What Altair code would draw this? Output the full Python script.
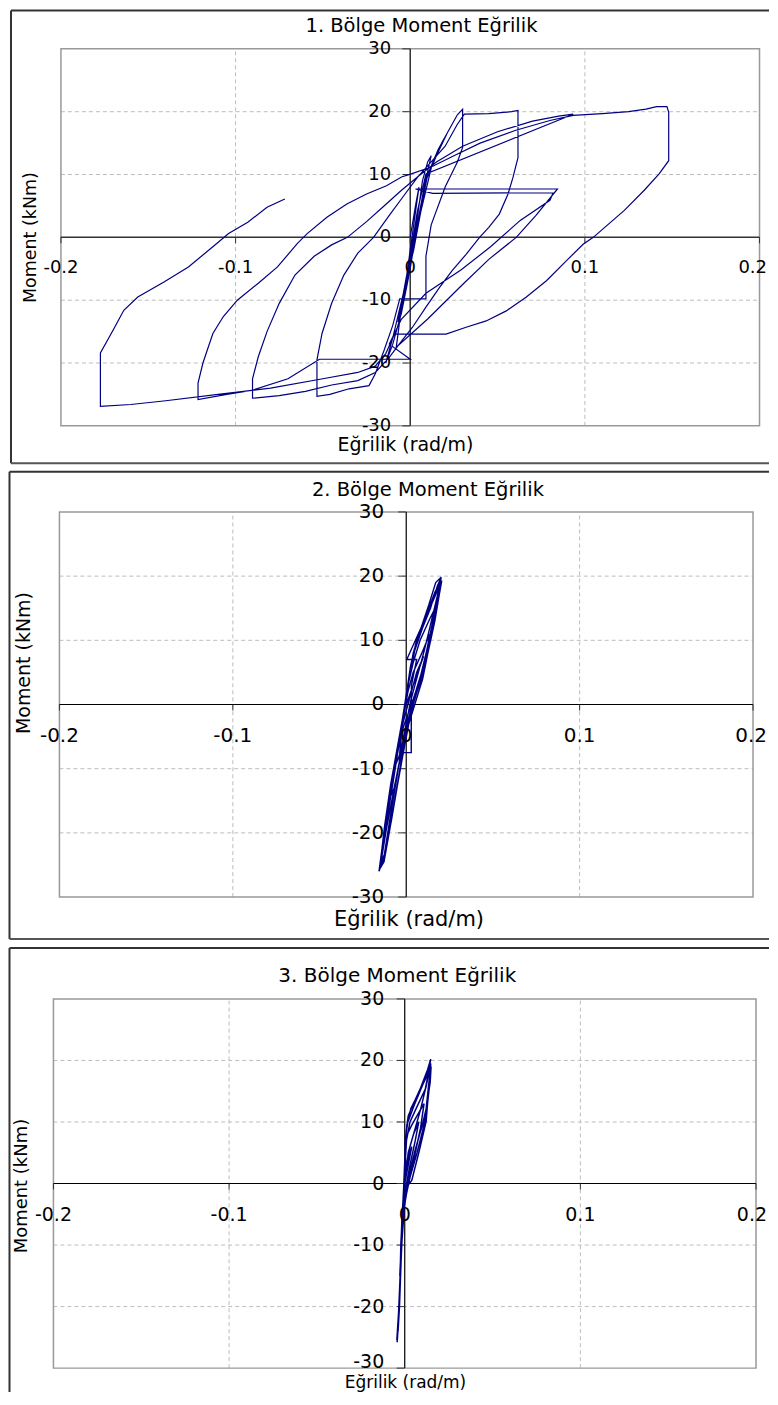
import altair as alt
import pandas as pd

# ---------------- data ----------------
X_TICKS = [-0.2, -0.1, 0.0, 0.1, 0.2]
X_LABELS = ["-0.2", "-0.1", "0", "0.1", "0.2"]
Y_TICKS = [-30, -20, -10, 0, 10, 20, 30]
Y_LABELS = ["-30", "-20", "-10", "0", "10", "20", "30"]
X_GRID = [-0.1, 0.1]
Y_GRID = [-20, -10, 10, 20]

TITLES = ["1. Bölge Moment Eğrilik", "2. Bölge Moment Eğrilik", "3. Bölge Moment Eğrilik"]
X_TITLE = "Eğrilik (rad/m)"
Y_TITLE = "Moment (kNm)"

# Panel 1 : curvature (rad/m) and moment (kNm), in recorded order
P1_X = [0.0, 0.003, 0.005, 0.003, 0.0, -0.002, -0.003, 0.0, 0.004, 0.007, 0.010, 0.012, 0.008, 0.004, 0.0,
        -0.004, -0.007, -0.004, 0.002,
        0.006, 0.012, 0.018, 0.021, 0.015, 0.009, 0.004, 0.0, -0.005, -0.010, -0.014, -0.010, -0.004, 0.001, 0.005,
        0.010, 0.016, 0.022, 0.027, 0.030,
        0.030, 0.027, 0.020, 0.012, 0.009, 0.009, -0.006, -0.010, -0.015, -0.020, -0.0236, -0.035, -0.046, -0.0534,
        -0.0534, -0.0505, -0.045, -0.038, -0.030, -0.021, -0.012, -0.004, 0.004, 0.012, 0.020, 0.027, 0.031, 0.045,
        0.058, 0.0617,
        0.0617, 0.0588, 0.056, 0.051, 0.045, 0.0397, 0.032, 0.024, 0.0167, 0.009, 0.0013, -0.0063, -0.012, -0.020,
        -0.030, -0.045, -0.060, -0.075, -0.0903,
        -0.0903, -0.087, -0.082, -0.075, -0.066, -0.055, -0.045, -0.036, -0.025, -0.015, -0.005, 0.005, 0.015,
        0.030, 0.050, 0.070, 0.085, 0.0933,
        0.009, 0.004, 0.0, -0.004, -0.008, 0.010, 0.030, 0.045, 0.0607, 0.072, 0.0843,
        0.003, 0.0128, 0.0818, 0.080, 0.063, 0.046, 0.029, 0.009, -0.005, -0.012, 0.0, -0.052, -0.070, -0.090,
        -0.105, -0.1215,
        -0.1215, -0.1187, -0.113, -0.107, -0.099, -0.087, -0.076, -0.0647, -0.059, -0.0477, -0.0363, -0.025,
        -0.0136, -0.005, 0.0006, 0.012, 0.025, 0.040, 0.060, 0.080, 0.0933, 0.110, 0.125, 0.135, 0.141, 0.147,
        0.148, 0.148, 0.1425, 0.134, 0.1226, 0.1048, 0.099, 0.0895, 0.078, 0.0665, 0.055, 0.0435, 0.032, 0.0205,
        -0.009, -0.014, -0.020, -0.030, -0.050, -0.080, -0.110, -0.140, -0.160, -0.1774,
        -0.1774, -0.170, -0.164, -0.156, -0.141, -0.127, -0.113, -0.104, -0.093, -0.082, -0.0718]
P1_M = [0.0, 5, 8, 4, -2, -6, -8, -3, 3, 9, 12, 13, 8, 2, -4,
        -10, -13.5, -9, -2,
        4, 11, 15, 16.5, 13, 9, 2, -5, -12, -17, -20, -16, -9, -3, 3,
        10, 14, 17, 19.5, 20.4,
        14.3, 12, 8, 2, -3, -9.8, -9.8, -14, -18, -21.7, -23.6, -24.1, -25.0, -25.3,
        -19.5, -15.3, -10.5, -6.0, -2.5, 0.0, 3.5, 6.5, 9.5, 12.0, 14.5, 18.0, 19.6, 19.7,
        20.0, 20.2,
        12.7, 9.5, 6.9, 3.7, 1.6, 0.0, -2.7, -5.3, -8.0, -11.1, -14.3, -17.0, -19.1, -21.5,
        -22.8, -23.5, -24.5, -25.2, -25.6,
        -22.5, -19.0, -15.0, -10.5, -6.0, -3.0, -1.2, 0.0, 2.5, 5.0, 7.5, 9.8, 12.0,
        14.5, 16.8, 18.5, 19.3, 19.6,
        10.1, 4.0, -3.0, -9.0, -17.5, -13.0, -7.5, -3.5, 0.0, 3.5, 7.7,
        7.7, 7.0, 7.1, 5.9, 2.7, -1.5, -5.2, -8.9, -13.0, -17.0, -19.4, -19.4, -22.5, -24.3,
        -25.0, -25.8,
        -23.2, -20.0, -15.3, -12.6, -10.0, -7.3, -4.7, -1.0, 0.6, 3.2, 5.3, 6.9,
        8.2, 9.6, 10.1, 11.2, 13.0, 15.0, 17.0, 18.6, 19.4, 19.7, 20.0, 20.4, 20.8, 20.8,
        19.9, 12.2, 10.1, 7.5, 4.3, 0.0, -1.1, -3.7, -6.9, -9.5, -11.7, -13.3, -14.3, -15.4,
        -15.4, -18.5, -20.5, -21.5, -22.5, -24.0, -25.0, -26.0, -26.6, -26.9,
        -18.4, -14.7, -11.6, -9.5, -7.1, -4.7, -1.5, 0.6, 2.4, 4.8, 6.1]

# Panel 2
P2_X = [0.0, 0.004, 0.008, 0.010,
        0.006, 0.002, -0.002, -0.004,
        -0.001, 0.003, 0.008, 0.012, 0.0135,
        0.009, 0.004, 0.001, -0.002, -0.005, -0.007,
        -0.004, 0.0, 0.004, 0.009, 0.013, 0.016, 0.0175,
        0.013, 0.008, 0.004, 0.001, -0.002, -0.006, -0.009, -0.010,
        -0.007, -0.003, 0.001, 0.005, 0.010, 0.0135, 0.017, 0.0195, 0.0197,
        0.017, 0.013, 0.008, 0.004, 0.0015, -0.001, -0.005, -0.009, -0.0125, -0.0154,
        -0.0128, -0.0095, -0.006, -0.002, 0.0015, 0.0055, 0.0095, 0.0125, 0.0165, 0.019, 0.0205,
        0.0133, 0.0003, 0.006, 0.003, 0.0029, 0.0029, -0.003, -0.003,
        -0.004, -0.008, -0.0115, -0.0145,
        -0.012, -0.0085, -0.005, -0.0015, 0.002, 0.006, 0.010, 0.013, 0.0165, 0.0195,
        0.0165, 0.011, 0.0055, 0.0025, 0.0, -0.003, -0.0065, -0.010, -0.013, -0.015,
        -0.0125, -0.009, -0.0055, -0.001, 0.003, 0.007, 0.011, 0.014, 0.017, 0.0198,
        0.0175, 0.012, 0.006, 0.0025, 0.0, -0.0035, -0.0075, -0.011, -0.014, -0.0157,
        -0.013, -0.0095, -0.0055, -0.0015, 0.0025, 0.0065, 0.0105, 0.0145, 0.018, 0.0202,
        0.018, 0.014, 0.0095, 0.005, 0.002, -0.0005, -0.004, -0.0075, -0.0105, -0.0135]
P2_M = [0.0, 3, 6, 7.5,
        5, 1, -3, -5.5,
        -3, 0, 4, 8.5, 11,
        8, 5, 2, -2.5, -7, -10,
        -8, -4, 0, 4.5, 9, 13, 15.5,
        13, 10, 6.5, 3, -2, -8, -13, -15,
        -13, -8, -2.5, 1, 5, 9.5, 14, 18.5, 19.7,
        19, 15.5, 11.5, 8, 4, -0.5, -6.5, -12.5, -19, -25.7,
        -24.5, -19.5, -14, -8, -3, 0.5, 4, 8, 13, 17, 19.3,
        14.8, 7.0, 7.0, 3.0, -3.9, -7.5, -7.5, -4.0,
        -9, -14.5, -19.5, -24.5,
        -23, -18, -12.5, -6.5, -1.5, 2.5, 6, 10, 14.5, 19,
        17.5, 13.5, 9.5, 5.5, 1, -4, -9.5, -15, -20.5, -25,
        -24, -18.5, -13, -6, -1, 3, 7.5, 11, 15, 19.6,
        18, 14, 10, 6, 1.5, -4.5, -11, -17, -22.5, -26,
        -24, -18, -11.5, -5, 0.5, 4.5, 8.5, 13, 17, 19.8,
        18.5, 15, 12, 8.5, 4.5, 0, -6, -12, -17, -22]

# Panel 3
P3_X = [0.0, 0.002, 0.004, 0.002, 0.0, -0.001, -0.0015, 0.0, 0.003, 0.006, 0.008, 0.005, 0.002, 0.0,
        -0.0015, -0.002, -0.001, 0.002, 0.006, 0.009, 0.011, 0.009, 0.004, 0.0004, 0.0, -0.001, -0.002,
        -0.0028, -0.002, 0.0, 0.003, 0.007, 0.0115, 0.0125, 0.014, 0.0145, 0.0122, 0.008, 0.0055, 0.0017,
        0.0004, 0.0, -0.0011, -0.0022, -0.003, -0.0043, -0.0035, -0.0025, -0.0015, 0.0, 0.004, 0.008,
        0.0122, 0.013, 0.0145, 0.0148, 0.012, 0.007, 0.003, 0.001, 0.0,
        0.003, 0.006, 0.009, 0.0115, 0.0135, 0.0148, 0.013, 0.009, 0.005, 0.002, 0.0008, 0.0002,
        -0.0008, -0.0018, -0.0026, -0.0035, -0.0045, -0.0038, -0.0028, -0.0018, -0.0008, 0.0015, 0.0045,
        0.0075, 0.010, 0.0125, 0.0138, 0.0143, 0.011, 0.0075, 0.0035, 0.0012, 0.0003, 0.0, -0.001, -0.002,
        -0.0028, -0.0038, -0.003, -0.002, -0.001, 0.001, 0.003, 0.006, 0.009, 0.012, 0.013, 0.0145, 0.015]
P3_M = [0.0, 3, 6, 4, 1, -3, -5, -1.5, 3, 7, 10, 8, 5, 0,
        -5, -9, -5, 0, 5, 9, 13, 12, 9.5, 7.4, 3, -3, -10,
        -15, -11, -3, 1, 5, 10, 13, 17, 20, 17.4, 14.5, 12.8, 9.9,
        7.4, 3, -3.7, -9.8, -19.9, -25.8, -22, -14, -7, -1, 0.5, 5,
        10.1, 13, 17, 19.5, 15.5, 12.5, 10, 7, 2,
        6, 9, 12, 15, 18, 20.2, 18.5, 15.5, 13, 11, 8.5, 5,
        -2, -8, -15, -21, -25.5, -23, -17, -10, -4, 0, 3.5,
        7, 9.5, 12.5, 16, 18.5, 16.5, 14.5, 12.2, 9.5, 6, 1, -5, -12,
        -18, -24, -20, -12, -5.5, -1, 2, 5.5, 8.5, 11, 13.5, 16.5, 19]

# ---------------- layout / style ----------------
FONT = "DejaVu Sans"
LINE_COLOR = "#000080"
W = 762  # whole page width minus the 8px margins

LAYOUT = [
    dict(h=459, x0=53.0, x1=752.5, yb=417.5, yt=40.0,
         box_left=3, box_top=1.5, box_bottom=455,
         tick_fs=18, title_fs=19.5, yt_fs=17.5, xt_fs=19, ydx=-19, xdy=31, low_dy=0,
         title_xy=(414, 17), ytitle_xy=(23, 229), xtitle_xy=(398, 437), axis_w=1.5, axis_c="#333333",
         lw=1.2),
    dict(h=477, x0=51.5, x1=746.0, yb=430.3, yt=44.7,
         box_left=1.5, box_top=4.5, box_bottom=472.3,
         tick_fs=20, title_fs=19.5, yt_fs=19, xt_fs=21, ydx=-22, xdy=32, low_dy=0,
         title_xy=(420.5, 23), ytitle_xy=(16, 196), xtitle_xy=(401.5, 453), axis_w=1.2, axis_c="#000000",
         lw=1.4),
    dict(h=449, x0=45.5, x1=749.0, yb=425.0, yt=55.3,
         box_left=1.5, box_top=4.3, box_bottom=None,
         tick_fs=19, title_fs=20, yt_fs=18, xt_fs=17, ydx=-20.5, xdy=32, low_dy=-6,
         title_xy=(389.8, 32.7), ytitle_xy=(14, 242.7), xtitle_xy=(398, 440), axis_w=1.2, axis_c="#000000",
         lw=1.5),
]

one = pd.DataFrame({"a": [0]})


def panel(xs, ms, title, L):
    xsc = alt.Scale(domain=[-0.2, 0.2], range=[L["x0"], L["x1"]], nice=False, zero=False)
    ysc = alt.Scale(domain=[-30, 30], range=[L["yb"], L["yt"]], nice=False, zero=False)

    def X(f):
        return alt.X(f, type="quantitative", scale=xsc, axis=None)

    def Y(f):
        return alt.Y(f, type="quantitative", scale=ysc, axis=None)

    layers = []
    # grid
    vg = pd.DataFrame({"gx": X_GRID, "lo": [-30] * len(X_GRID), "hi": [30] * len(X_GRID)})
    layers.append(alt.Chart(vg).mark_rule(color="#bdbdbd", strokeWidth=1, strokeDash=[4, 3]).encode(
        x=X("gx"), y=Y("lo"), y2="hi"))
    hg = pd.DataFrame({"gy": Y_GRID, "lo": [-0.2] * len(Y_GRID), "hi": [0.2] * len(Y_GRID)})
    layers.append(alt.Chart(hg).mark_rule(color="#bdbdbd", strokeWidth=1, strokeDash=[4, 3]).encode(
        y=Y("gy"), x=X("lo"), x2="hi"))
    # plot frame
    fr = pd.DataFrame({"x1": [-0.2], "x2": [0.2], "y1": [-30], "y2": [30]})
    layers.append(alt.Chart(fr).mark_rect(filled=False, stroke="#999999", strokeWidth=1.5).encode(
        x=X("x1"), x2="x2", y=Y("y1"), y2="y2"))
    # zero axes
    za = pd.DataFrame({"z": [0.0], "lo": [-30], "hi": [30]})
    layers.append(alt.Chart(za).mark_rule(color=L["axis_c"], strokeWidth=L["axis_w"]).encode(
        x=X("z"), y=Y("lo"), y2="hi"))
    zb = pd.DataFrame({"z": [0.0], "lo": [-0.2], "hi": [0.2]})
    layers.append(alt.Chart(zb).mark_rule(color=L["axis_c"], strokeWidth=L["axis_w"]).encode(
        y=Y("z"), x=X("lo"), x2="hi"))
    # ticks
    yt = pd.DataFrame({"v": Y_TICKS, "lab": Y_LABELS, "zx": [0.0] * len(Y_TICKS)})
    layers.append(alt.Chart(yt).mark_tick(orient="horizontal", size=8, thickness=1, color="#333333",
                                          xOffset=-4, opacity=1).encode(x=X("zx"), y=Y("v")))
    xt = pd.DataFrame({"v": X_TICKS, "lab": X_LABELS, "zy": [0.0] * len(X_TICKS)})
    layers.append(alt.Chart(xt).mark_tick(orient="vertical", size=6, thickness=1, color="#333333",
                                          yOffset=3, opacity=1).encode(x=X("v"), y=Y("zy")))
    # curve
    cv = pd.DataFrame({"x": xs, "m": ms, "i": list(range(len(xs)))})
    layers.append(alt.Chart(cv).mark_line(color=LINE_COLOR, strokeWidth=L["lw"], strokeJoin="miter").encode(
        x=X("x"), y=Y("m"), order=alt.Order("i:Q")))
    # tick labels
    yt_main = yt[yt["v"] > -30]
    yt_low = yt[yt["v"] <= -30]
    layers.append(alt.Chart(yt_main).mark_text(align="right", baseline="middle", dx=L["ydx"], font=FONT,
                                               fontSize=L["tick_fs"], color="#000000").encode(
        x=X("zx"), y=Y("v"), text="lab:N"))
    layers.append(alt.Chart(yt_low).mark_text(align="right", baseline="middle", dx=L["ydx"], dy=L["low_dy"],
                                              font=FONT, fontSize=L["tick_fs"], color="#000000").encode(
        x=X("zx"), y=Y("v"), text="lab:N"))
    xt_in = xt[xt["v"] < 0.15]
    xt_end = xt[xt["v"] >= 0.15]
    layers.append(alt.Chart(xt_in).mark_text(align="center", baseline="middle", dy=L["xdy"], font=FONT,
                                             fontSize=L["tick_fs"], color="#000000").encode(
        x=X("v"), y=Y("zy"), text="lab:N"))
    # last label kept inside the page (the source lets it run to the very edge)
    layers.append(alt.Chart(xt_end).mark_text(align="right", baseline="middle", dy=L["xdy"],
                                              dx=760 - L["x1"], font=FONT,
                                              fontSize=L["tick_fs"], color="#000000").encode(
        x=X("v"), y=Y("zy"), text="lab:N"))
    # titles
    tx, ty = L["title_xy"]
    layers.append(alt.Chart(one).mark_text(text=title, font=FONT, fontSize=L["title_fs"], align="center",
                                           baseline="middle", color="#000000").encode(
        x=alt.value(tx), y=alt.value(ty)))
    ax_, ay_ = L["ytitle_xy"]
    layers.append(alt.Chart(one).mark_text(text=Y_TITLE, font=FONT, fontSize=L["yt_fs"], align="center",
                                           baseline="middle", angle=270, color="#000000").encode(
        x=alt.value(ax_), y=alt.value(ay_)))
    bx_, by_ = L["xtitle_xy"]
    layers.append(alt.Chart(one).mark_text(text=X_TITLE, font=FONT, fontSize=L["xt_fs"], align="center",
                                           baseline="middle", color="#000000").encode(
        x=alt.value(bx_), y=alt.value(by_)))
    # outer box (top, left, bottom; right side is cut off in the source)
    bl, btop, bbot = L["box_left"], L["box_top"], L["box_bottom"]
    layers.append(alt.Chart(one).mark_rule(color="#333333", strokeWidth=2).encode(
        x=alt.value(bl), x2=alt.value(W), y=alt.value(btop)))
    layers.append(alt.Chart(one).mark_rule(color="#333333", strokeWidth=2).encode(
        x=alt.value(bl), y=alt.value(btop), y2=alt.value(bbot if bbot is not None else L["h"])))
    if bbot is not None:
        layers.append(alt.Chart(one).mark_rule(color="#555555", strokeWidth=2).encode(
            x=alt.value(bl), x2=alt.value(W), y=alt.value(bbot)))

    return alt.layer(*layers).properties(width=W, height=L["h"])


p1 = panel(P1_X, P1_M, TITLES[0], LAYOUT[0])
p2 = panel(P2_X, P2_M, TITLES[1], LAYOUT[1])
p3 = panel(P3_X, P3_M, TITLES[2], LAYOUT[2])

chart = alt.vconcat(p1, p2, p3, spacing=0).properties(padding=0).configure_view(stroke=None)
chart.save("out.html", embed_options={"renderer": "svg", "actions": False})
